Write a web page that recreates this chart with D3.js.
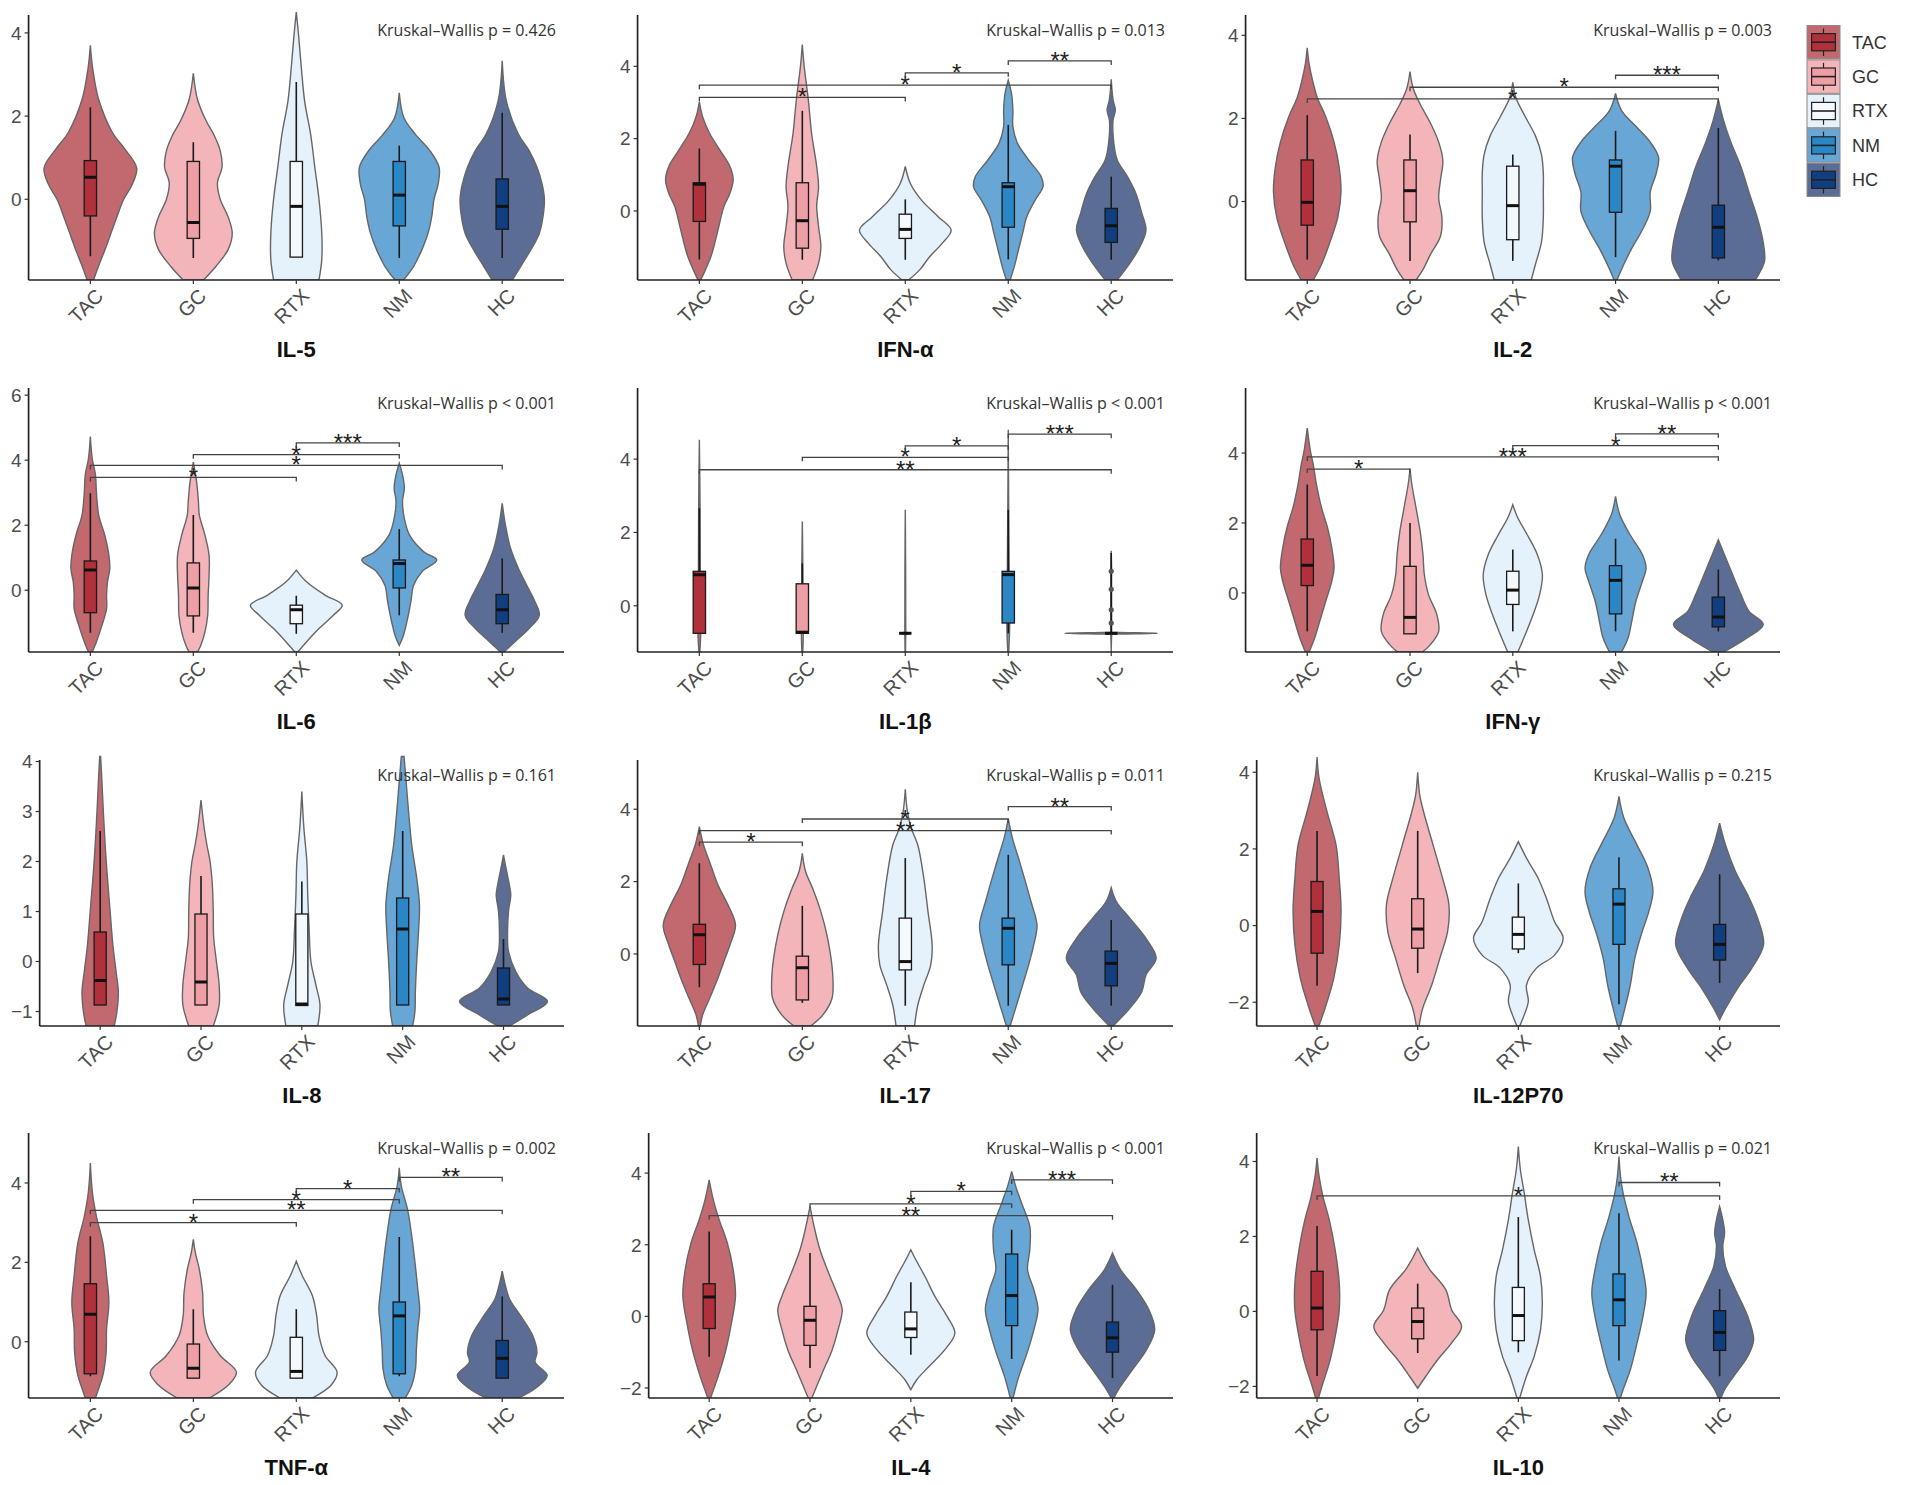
<!DOCTYPE html>
<html><head><meta charset="utf-8">
<script src="https://cdn.jsdelivr.net/npm/d3@7"></script>
<style>body{margin:0;background:#fff}svg{display:block}</style>
</head><body>
<svg id="c" width="1908" height="1485"></svg>
<script>
// ---------------- DATA ----------------
const groups = ["TAC","GC","RTX","NM","HC"];
const cytokines = ["IL-5","IFN-α","IL-2","IL-6","IL-1β","IFN-γ","IL-8","IL-17","IL-12P70","TNF-α","IL-4","IL-10"];
const kruskalP = ["p = 0.426","p = 0.013","p = 0.003","p < 0.001","p < 0.001","p < 0.001","p = 0.161","p = 0.011","p = 0.215","p = 0.002","p < 0.001","p = 0.021"];
const yDomains = [[-1.94,4.43],[-1.91,5.42],[-1.89,4.49],[-1.9,6.22],[-1.26,5.94],[-1.69,5.86],[-1.29,4.03],[-1.99,5.36],[-2.62,4.32],[-1.42,5.26],[-2.28,5.12],[-2.31,4.76]];
const yTicks = [[0,2,4],[0,2,4],[0,2,4],[0,2,4,6],[0,2,4],[0,2,4],[-1,0,1,2,3,4],[0,2,4],[-2,0,2,4],[0,2,4],[-2,0,2,4],[-2,0,2,4]];

// box stats per cytokine, per group: [lower whisker, q1, median, q3, upper whisker]
const boxStats = [
 [[-1.37,-0.40,0.53,0.93,2.21],[-1.41,-0.94,-0.56,0.91,1.37],[-1.39,-1.39,-0.17,0.91,2.82],[-1.41,-0.64,0.10,0.91,1.29],[-1.41,-0.72,-0.17,0.49,2.08]],
 [[-1.34,-0.29,0.74,0.78,1.73],[-1.35,-1.03,-0.27,0.78,2.77],[-1.35,-0.76,-0.51,-0.09,0.32],[-1.34,-0.45,0.67,0.78,2.38],[-1.35,-0.87,-0.41,0.07,0.95]],
 [[-1.40,-0.57,-0.02,1.00,2.08],[-1.43,-0.49,0.26,1.00,1.61],[-1.43,-0.92,-0.10,0.85,1.13],[-1.34,-0.26,0.85,1.00,1.70],[-1.42,-1.36,-0.62,-0.09,1.77]],
 [[-1.31,-0.69,0.62,0.90,2.98],[-1.31,-0.79,0.07,0.84,2.31],[-1.34,-1.03,-0.60,-0.46,-0.17],[-0.77,0.07,0.82,0.93,1.88],[-1.31,-1.03,-0.60,-0.13,0.98]],
 [[-0.75,-0.75,0.85,0.94,2.66],[-0.75,-0.75,-0.72,0.60,1.16],[-0.75,-0.75,-0.75,-0.75,-0.75],[-0.75,-0.47,0.85,0.94,2.62],[-0.75,-0.75,-0.75,-0.75,1.44]],
 [[-1.10,0.21,0.79,1.54,3.10],[-1.17,-1.17,-0.70,0.76,2.00],[-1.10,-0.33,0.08,0.62,1.24],[-1.10,-0.60,0.36,0.78,1.55],[-1.10,-0.97,-0.69,-0.12,0.67]],
 [[-0.87,-0.87,-0.38,0.59,2.61],[-0.87,-0.87,-0.41,0.95,1.71],[-0.88,-0.88,-0.85,0.95,1.60],[-0.87,-0.87,0.65,1.27,2.61],[-0.87,-0.87,-0.75,-0.13,0.45]],
 [[-0.92,-0.29,0.53,0.82,2.51],[-1.35,-1.27,-0.38,-0.06,1.33],[-1.43,-0.44,-0.21,0.99,2.65],[-1.43,-0.30,0.71,0.99,2.74],[-1.43,-0.88,-0.26,0.08,0.94]],
 [[-1.57,-0.72,0.37,1.15,2.47],[-1.24,-0.59,-0.09,0.70,2.47],[-0.72,-0.61,-0.23,0.22,1.10],[-2.05,-0.49,0.56,0.96,1.78],[-1.50,-0.90,-0.49,0.03,1.34]],
 [[-0.87,-0.81,0.69,1.46,2.66],[-0.92,-0.92,-0.67,-0.06,0.82],[-0.92,-0.92,-0.75,0.11,0.82],[-0.87,-0.81,0.65,1.00,2.64],[-0.92,-0.92,-0.42,0.03,1.14]],
 [[-1.13,-0.34,0.54,0.91,2.37],[-1.44,-0.81,-0.11,0.28,1.77],[-1.07,-0.59,-0.35,0.12,0.95],[-1.19,-0.26,0.58,1.74,2.42],[-1.72,-1.00,-0.60,-0.16,0.88]],
 [[-1.72,-0.49,0.09,1.07,2.28],[-1.11,-0.73,-0.27,0.09,0.74],[-1.09,-0.78,-0.11,0.64,2.52],[-1.31,-0.38,0.31,1.00,2.62],[-1.73,-1.04,-0.56,0.02,0.60]]
];

// violin density profiles: [value, relative half-width (1 = full violin width)]
const violins = [
 [ // IL-5
  [[3.7,0],[3.15,0.05],[2.4,0.18],[1.6,0.48],[1.2,0.75],[0.75,1.0],[0.35,0.9],[0,0.72],[-0.4,0.58],[-0.8,0.45],[-1.2,0.32],[-1.6,0.18],[-1.94,0.07]],
  [[3.03,0],[2.4,0.09],[1.9,0.27],[1.56,0.44],[1.17,0.58],[0.77,0.62],[0.4,0.52],[0,0.58],[-0.42,0.75],[-0.82,0.84],[-1.21,0.75],[-1.61,0.49],[-1.94,0.22]],
  [[4.5,0],[3.94,0.05],[3.15,0.11],[2.36,0.18],[1.56,0.31],[0.77,0.4],[0,0.49],[-0.82,0.55],[-1.45,0.55],[-1.94,0.49]],
  [[2.56,0],[1.96,0.1],[1.56,0.35],[1.17,0.66],[0.77,0.86],[0.37,0.84],[0,0.75],[-0.42,0.7],[-0.82,0.62],[-1.21,0.49],[-1.61,0.31],[-1.94,0.09]],
  [[3.33,0],[2.36,0.09],[1.56,0.35],[1.17,0.58],[0.77,0.75],[0.37,0.86],[0,0.91],[-0.42,0.88],[-0.82,0.8],[-1.21,0.62],[-1.61,0.4],[-1.94,0.22]]
 ],
 [ // IFN-α
  [[3.02,0],[2.61,0.07],[2.15,0.22],[1.69,0.44],[1.23,0.66],[0.86,0.73],[0.49,0.66],[0.12,0.53],[-0.43,0.42],[-0.8,0.35],[-1.26,0.25],[-1.63,0.13],[-1.91,0.03]],
  [[4.6,0],[4.0,0.04],[3.07,0.13],[2.15,0.2],[1.23,0.31],[0.67,0.35],[0.12,0.31],[-0.43,0.35],[-0.99,0.4],[-1.45,0.35],[-1.91,0.22]],
  [[1.23,0],[0.76,0.11],[0.3,0.35],[-0.16,0.71],[-0.53,0.99],[-0.89,0.8],[-1.26,0.53],[-1.63,0.31],[-1.91,0.07]],
  [[3.62,0],[3.25,0.07],[2.79,0.1],[2.33,0.1],[1.87,0.2],[1.41,0.44],[0.95,0.71],[0.67,0.75],[0.3,0.58],[-0.16,0.4],[-0.62,0.31],[-1.08,0.22],[-1.54,0.13],[-1.91,0.04]],
  [[3.64,0],[3.07,0.04],[2.79,0.09],[2.52,0.04],[1.96,0.05],[1.41,0.13],[0.95,0.35],[0.49,0.53],[-0.06,0.66],[-0.53,0.75],[-0.99,0.62],[-1.45,0.4],[-1.91,0.13]]
 ],
 [ // IL-2
  [[3.7,0],[3.32,0.04],[2.94,0.11],[2.49,0.22],[2.04,0.4],[1.43,0.58],[0.83,0.69],[0.23,0.73],[-0.38,0.66],[-0.98,0.49],[-1.51,0.31],[-1.89,0.13]],
  [[3.13,0],[2.72,0.07],[2.34,0.22],[1.89,0.44],[1.43,0.62],[0.98,0.71],[0.53,0.66],[0.08,0.62],[-0.38,0.69],[-0.83,0.66],[-1.28,0.44],[-1.66,0.27],[-1.89,0.13]],
  [[2.87,0],[2.49,0.07],[2.04,0.27],[1.58,0.49],[1.13,0.62],[0.68,0.66],[0.23,0.66],[-0.38,0.66],[-0.98,0.62],[-1.51,0.49],[-1.89,0.4]],
  [[2.6,0],[2.19,0.13],[1.81,0.44],[1.43,0.75],[1.06,0.93],[0.68,0.88],[0.23,0.75],[-0.23,0.75],[-0.68,0.58],[-1.13,0.35],[-1.51,0.18],[-1.89,0.03]],
  [[2.45,0],[1.96,0.11],[1.43,0.27],[0.83,0.49],[0.23,0.66],[-0.38,0.84],[-0.98,0.97],[-1.43,1.0],[-1.74,0.88],[-1.89,0.8]]
 ],
 [ // IL-6
  [[4.73,0],[4.06,0.04],[3.55,0.11],[3.03,0.13],[2.31,0.18],[1.7,0.31],[1.08,0.4],[0.67,0.42],[0.26,0.37],[-0.15,0.35],[-0.57,0.35],[-1.08,0.25],[-1.59,0.13],[-1.9,0.04]],
  [[3.94,0],[3.34,0.07],[2.73,0.11],[2.31,0.13],[1.7,0.25],[1.08,0.34],[0.46,0.34],[-0.15,0.32],[-0.77,0.31],[-1.29,0.25],[-1.7,0.16],[-1.9,0.09]],
  [[0.62,0],[0.26,0.22],[-0.15,0.62],[-0.46,0.99],[-0.77,0.8],[-1.18,0.49],[-1.59,0.22],[-1.9,0.03]],
  [[3.91,0],[3.55,0.07],[3.14,0.11],[2.73,0.07],[2.21,0.11],[1.7,0.22],[1.18,0.53],[0.93,0.81],[0.57,0.49],[0.15,0.31],[-0.36,0.25],[-0.87,0.18],[-1.39,0.09],[-1.7,0]],
  [[2.67,0],[2.0,0.07],[1.29,0.18],[0.67,0.35],[0.15,0.53],[-0.36,0.71],[-0.77,0.8],[-1.18,0.58],[-1.59,0.27],[-1.9,0.04]]
 ],
 [ // IL-1β
  [[4.53,0],[3.5,0.01],[2.7,0.015],[1.0,0.02],[-0.7,0.03],[-1.26,0.01]],
  [[2.3,0],[1.2,0.01],[0,0.015],[-0.75,0.02],[-1.26,0.01]],
  [[2.62,0],[1.0,0.008],[-0.7,0.01],[-0.75,0.06],[-0.8,0.01],[-1.26,0.005]],
  [[4.8,0],[2.62,0.01],[0.9,0.02],[-0.5,0.03],[-1.26,0.01]],
  [[1.5,0],[1.0,0.008],[-0.72,0.01],[-0.75,1.0],[-0.78,0.01],[-1.26,0]]
 ],
 [ // IFN-γ
  [[4.71,0],[4.05,0.07],[3.67,0.13],[3.1,0.2],[2.43,0.31],[1.86,0.44],[1.29,0.53],[0.71,0.58],[0.33,0.53],[-0.24,0.4],[-0.81,0.27],[-1.29,0.16],[-1.69,0.04]],
  [[3.55,0],[3.1,0.04],[2.43,0.13],[1.76,0.22],[1.1,0.28],[0.52,0.31],[-0.05,0.4],[-0.62,0.58],[-1.1,0.62],[-1.48,0.44],[-1.69,0.27]],
  [[2.52,0],[2.14,0.11],[1.67,0.31],[1.1,0.53],[0.52,0.64],[-0.05,0.58],[-0.62,0.44],[-1.19,0.27],[-1.69,0.11]],
  [[2.76,0],[2.24,0.09],[1.67,0.31],[1.1,0.58],[0.71,0.66],[0.33,0.58],[-0.24,0.44],[-0.81,0.35],[-1.29,0.27],[-1.69,0.13]],
  [[1.52,0],[1.1,0.13],[0.52,0.31],[-0.05,0.49],[-0.52,0.66],[-0.9,0.97],[-1.29,0.62],[-1.57,0.27],[-1.69,0.11]]
 ],
 [ // IL-8
  [[4.1,0.01],[3.67,0.035],[3.0,0.07],[2.33,0.11],[1.67,0.16],[1.0,0.22],[0.33,0.28],[-0.2,0.35],[-0.6,0.4],[-1.0,0.37],[-1.29,0.31]],
  [[3.23,0],[2.67,0.07],[2.33,0.13],[2.0,0.2],[1.53,0.25],[1.0,0.27],[0.47,0.28],[0,0.34],[-0.47,0.4],[-0.87,0.4],[-1.29,0.27]],
  [[3.4,0],[2.67,0.045],[2.0,0.11],[1.33,0.13],[0.67,0.16],[0,0.2],[-0.47,0.31],[-0.87,0.4],[-1.29,0.35]],
  [[4.1,0.03],[3.67,0.07],[3.0,0.13],[2.33,0.2],[1.67,0.31],[1.13,0.37],[0.6,0.35],[0,0.31],[-0.6,0.28],[-1.0,0.27],[-1.29,0.22]],
  [[2.13,0],[1.8,0.07],[1.53,0.13],[1.33,0.16],[1.0,0.11],[0.6,0.09],[0.2,0.11],[-0.2,0.27],[-0.53,0.53],[-0.8,0.97],[-1.07,0.53],[-1.29,0.13]]
 ],
 [ // IL-17
  [[3.52,0],[3.01,0.09],[2.55,0.22],[1.91,0.4],[1.35,0.62],[0.8,0.78],[0.25,0.66],[-0.21,0.53],[-0.67,0.4],[-1.23,0.22],[-1.69,0.07],[-1.99,0.02]],
  [[2.78,0],[2.28,0.07],[1.82,0.22],[1.17,0.4],[0.53,0.53],[-0.12,0.62],[-0.67,0.66],[-1.23,0.64],[-1.69,0.44],[-1.99,0.18]],
  [[4.55,0],[3.94,0.045],[3.47,0.13],[3.01,0.27],[2.09,0.4],[1.17,0.49],[0.25,0.58],[-0.3,0.55],[-0.86,0.4],[-1.41,0.27],[-1.99,0.2]],
  [[3.73,0],[3.2,0.09],[2.65,0.22],[2.09,0.35],[1.45,0.49],[0.8,0.62],[0.25,0.55],[-0.3,0.44],[-0.86,0.31],[-1.41,0.18],[-1.99,0.04]],
  [[1.83,0],[1.45,0.11],[0.99,0.4],[0.43,0.75],[-0.12,0.97],[-0.58,0.75],[-1.04,0.66],[-1.5,0.4],[-1.99,0.04]]
 ],
 [ // IL-12P70
  [[4.4,0],[3.84,0.045],[2.97,0.22],[2.1,0.42],[1.23,0.49],[0.37,0.53],[-0.5,0.49],[-1.37,0.37],[-2.07,0.2],[-2.62,0.04]],
  [[4.0,0],[3.41,0.045],[2.97,0.13],[2.1,0.34],[1.23,0.55],[0.54,0.69],[-0.16,0.66],[-0.85,0.49],[-1.55,0.31],[-2.16,0.11],[-2.62,0.03]],
  [[2.19,0],[1.76,0.18],[1.23,0.44],[0.71,0.62],[0.1,0.8],[-0.33,0.99],[-0.77,0.8],[-1.11,0.4],[-1.55,0.18],[-1.98,0.22],[-2.33,0.13],[-2.62,0.03]],
  [[3.37,0],[2.8,0.11],[2.1,0.4],[1.5,0.64],[0.89,0.75],[0.37,0.66],[-0.24,0.49],[-0.85,0.35],[-1.55,0.25],[-2.16,0.13],[-2.62,0.03]],
  [[2.67,0],[2.1,0.13],[1.41,0.35],[0.8,0.62],[0.19,0.84],[-0.5,0.97],[-1.11,0.71],[-1.63,0.4],[-2.16,0.13],[-2.46,0]]
 ],
 [ // TNF-α
  [[4.5,0],[3.75,0.045],[3.16,0.13],[2.49,0.27],[1.66,0.35],[0.99,0.4],[0.32,0.35],[-0.27,0.34],[-0.85,0.27],[-1.18,0.18],[-1.42,0.11]],
  [[2.58,0],[2.24,0.045],[1.82,0.13],[1.24,0.2],[0.65,0.22],[0.15,0.31],[-0.35,0.58],[-0.77,0.93],[-1.1,0.75],[-1.42,0.35]],
  [[2.03,0],[1.66,0.13],[1.15,0.35],[0.65,0.44],[0.15,0.49],[-0.35,0.62],[-0.77,0.88],[-1.1,0.75],[-1.42,0.35]],
  [[4.38,0],[3.92,0.045],[3.33,0.18],[2.66,0.27],[1.99,0.34],[1.32,0.4],[0.82,0.44],[0.32,0.4],[-0.18,0.37],[-0.69,0.35],[-1.1,0.27],[-1.42,0.13]],
  [[1.78,0],[1.41,0.07],[1.07,0.16],[0.65,0.4],[0.15,0.66],[-0.27,0.75],[-0.52,0.71],[-0.85,0.97],[-1.18,0.71],[-1.42,0.35]]
 ],
 [ // IL-4
  [[3.81,0],[3.26,0.09],[2.7,0.22],[2.05,0.4],[1.3,0.53],[0.56,0.58],[-0.19,0.49],[-0.93,0.37],[-1.67,0.2],[-2.28,0.03]],
  [[3.07,0],[2.51,0.09],[1.86,0.22],[1.12,0.44],[0.56,0.62],[0.19,0.71],[-0.37,0.62],[-0.93,0.49],[-1.58,0.27],[-2.28,0.04]],
  [[1.86,0],[1.58,0.11],[1.12,0.31],[0.56,0.53],[0,0.8],[-0.47,0.97],[-0.93,0.75],[-1.4,0.4],[-1.77,0.13],[-2.05,0]],
  [[4.05,0],[3.63,0.09],[3.16,0.22],[2.51,0.4],[1.86,0.4],[1.3,0.35],[0.74,0.49],[0.19,0.58],[-0.37,0.49],[-1.02,0.34],[-1.67,0.16],[-2.28,0.03]],
  [[1.77,0],[1.3,0.18],[0.74,0.53],[0.19,0.8],[-0.37,0.93],[-0.93,0.75],[-1.49,0.44],[-2.05,0.13],[-2.28,0.03]]
 ],
 [ // IL-10
  [[4.09,0],[3.6,0.045],[3.07,0.13],[2.44,0.27],[1.64,0.4],[0.76,0.49],[0.04,0.49],[-0.67,0.4],[-1.38,0.27],[-1.91,0.13],[-2.31,0.03]],
  [[1.69,0],[1.38,0.13],[1.11,0.27],[0.58,0.62],[0.04,0.75],[-0.4,0.97],[-0.84,0.75],[-1.29,0.44],[-1.73,0.18],[-2.05,0]],
  [[4.4,0],[3.78,0.045],[3.16,0.13],[2.44,0.22],[1.64,0.35],[0.93,0.49],[0.22,0.53],[-0.49,0.49],[-1.2,0.35],[-1.73,0.18],[-2.31,0.03]],
  [[4.13,0],[3.6,0.035],[3.16,0.09],[2.53,0.22],[1.82,0.4],[1.11,0.53],[0.49,0.6],[-0.13,0.53],[-0.84,0.4],[-1.56,0.25],[-2.09,0.09],[-2.31,0.03]],
  [[2.8,0],[2.44,0.07],[2.09,0.11],[1.73,0.07],[1.2,0.13],[0.58,0.35],[-0.13,0.62],[-0.76,0.75],[-1.2,0.62],[-1.73,0.31],[-2.09,0.11],[-2.31,0.03]]
 ]
];

// significance brackets: [group A, group B, value, label]
const brackets = [
 [],
 [["TAC","RTX",3.14,"*"],["TAC","HC",3.48,"*"],["RTX","NM",3.82,"*"],["NM","HC",4.15,"**"]],
 [["TAC","HC",2.47,"*"],["GC","HC",2.75,"*"],["NM","HC",3.04,"***"]],
 [["TAC","RTX",3.47,"*"],["TAC","HC",3.84,"*"],["GC","NM",4.17,"*"],["RTX","NM",4.53,"***"]],
 [["TAC","HC",3.71,"**"],["GC","NM",4.05,"*"],["RTX","NM",4.36,"*"],["NM","HC",4.68,"***"]],
 [["TAC","GC",3.54,"*"],["TAC","HC",3.89,"***"],["RTX","HC",4.21,"*"],["NM","HC",4.55,"**"]],
 [],
 [["TAC","GC",3.09,"*"],["TAC","HC",3.41,"**"],["GC","NM",3.73,"*"],["NM","HC",4.07,"**"]],
 [],
 [["TAC","RTX",3.0,"*"],["TAC","HC",3.31,"**"],["GC","NM",3.58,"*"],["RTX","NM",3.86,"*"],["NM","HC",4.14,"**"]],
 [["TAC","HC",2.81,"**"],["GC","NM",3.14,"*"],["RTX","NM",3.49,"*"],["NM","HC",3.81,"***"]],
 [["TAC","HC",3.08,"*"],["NM","HC",3.44,"**"]]
];

// isolated points (IL-1β, HC)
const extraPoints = [["IL-1β","HC",[0.94,0.45,-0.11,-0.47]]];

// ---------------- STYLE / LAYOUT ----------------
const violinFill = {TAC:"#c2696f",GC:"#f4b5ba",RTX:"#e5f1fb",NM:"#68a6d6",HC:"#5b6d95"};
const boxFill    = {TAC:"#b0313b",GC:"#ee9ea5",RTX:"#f4f9fe",NM:"#2b86c5",HC:"#103e7e"};
const colLeft=[10,619,1227], colRight=[564,1173,1780];
const rowTop=[15,388,760,1133], rowBottom=[280,652,1026,1398];
const SANS='"Liberation Sans", Arial, Helvetica, sans-serif';

const svg=d3.select("#c");
const fmt=v=> v<0 ? "\u2212"+Math.abs(v) : String(v);
const meas=svg.append("text").style("font-family",SANS).style("font-size","19px").attr("visibility","hidden");
const tw=s=>{meas.text(s);return meas.node().getComputedTextLength();};

cytokines.forEach((name,k)=>{
  const r=Math.floor(k/3), c=k%3;
  const ticks=yTicks[k];
  const maxW=d3.max(ticks,t=>tw(fmt(t)));
  const x0=colLeft[c]+maxW+8, x1=colRight[c];
  const top=rowTop[r], bot=rowBottom[r];
  const y=d3.scaleLinear().domain(yDomains[k]).range([bot,top]);
  const x=d3.scalePoint().domain(groups).range([x0,x1]).padding(0.6);
  const step=x.step(), half=0.45*step, bw=0.06*step;
  const g=svg.append("g");
  const cid="clip"+k;
  g.append("clipPath").attr("id",cid).append("rect").attr("x",x0).attr("y",top-40).attr("width",x1-x0).attr("height",bot-top+40);
  const plot=g.append("g").attr("clip-path",`url(#${cid})`);
  // thin, spiky profiles (IL-1β) use a monotone curve; others a smooth Catmull-Rom
  const curve = name==="IL-1β" ? d3.curveMonotoneY : d3.curveCatmullRom.alpha(0.5);

  groups.forEach((grp,i)=>{
    const cx=x(grp);
    const area=d3.area().curve(curve)
      .y(d=>y(d[0])).x0(d=>cx-d[1]*half).x1(d=>cx+d[1]*half);
    const pts=violins[k][i].slice().sort((a,b)=>b[0]-a[0]);
    plot.append("path").attr("d",area(pts))
      .attr("fill",violinFill[grp]).attr("stroke","#666").attr("stroke-width",1.4);
    const [lo,q1,md,q3,hi]=boxStats[k][i];
    plot.append("line").attr("x1",cx).attr("x2",cx).attr("y1",y(lo)).attr("y2",y(hi))
      .attr("stroke","#1a1a1a").attr("stroke-width",1.6);
    plot.append("rect").attr("x",cx-bw).attr("width",2*bw).attr("y",y(q3)).attr("height",Math.max(0,y(q1)-y(q3)))
      .attr("fill",boxFill[grp]).attr("stroke","#1a1a1a").attr("stroke-width",1.3);
    plot.append("line").attr("x1",cx-bw).attr("x2",cx+bw).attr("y1",y(md)).attr("y2",y(md))
      .attr("stroke","#111").attr("stroke-width",3);
  });
  extraPoints.filter(p=>p[0]===name).forEach(p=>{
    p[2].forEach(v=>plot.append("circle").attr("cx",x(p[1])).attr("cy",y(v)).attr("r",2.6).attr("fill","#555"));
  });

  // brackets
  brackets[k].forEach(([a,b,v,lab])=>{
    const xa=x(a), xb=x(b), yy=y(v);
    g.append("path").attr("d",`M${xa},${yy+4}V${yy}H${xb}V${yy+4}`)
      .attr("fill","none").attr("stroke","#444").attr("stroke-width",1.3);
    g.append("text").attr("x",(xa+xb)/2).attr("y",yy+8).attr("text-anchor","middle")
      .style("font-family",SANS).style("font-size","24px").attr("fill","#222").text(lab);
  });

  // axes
  g.append("line").attr("x1",x0).attr("x2",x0).attr("y1",top).attr("y2",bot).attr("stroke","#222").attr("stroke-width",1.7);
  g.append("line").attr("x1",x0).attr("x2",x1).attr("y1",bot).attr("y2",bot).attr("stroke","#222").attr("stroke-width",1.7);
  ticks.forEach(t=>{
    g.append("line").attr("x1",x0-4).attr("x2",x0).attr("y1",y(t)).attr("y2",y(t)).attr("stroke","#333").attr("stroke-width",1.2);
    g.append("text").attr("x",x0-7).attr("y",y(t)).attr("dy","0.36em").attr("text-anchor","end")
      .style("font-family",SANS).style("font-size","19px").attr("fill","#4d4d4d").text(fmt(t));
  });
  groups.forEach(grp=>{
    const cx=x(grp);
    g.append("line").attr("x1",cx).attr("x2",cx).attr("y1",bot).attr("y2",bot+4).attr("stroke","#333").attr("stroke-width",1.2);
    g.append("text").attr("transform",`translate(${cx+4},${bot+7}) rotate(-45)`).attr("dy","0.72em").attr("text-anchor","end")
      .style("font-family",SANS).style("font-size","20px").attr("fill","#4d4d4d").text(grp);
  });
  // title
  g.append("text").attr("x",(x0+x1)/2).attr("y",bot+77).attr("text-anchor","middle")
    .style("font-family",SANS).style("font-size","22px").style("font-weight","bold").attr("fill","#111").text(name);
  // Kruskal label
  g.append("text").attr("x",x1-8).attr("y",top+21).attr("text-anchor","end")
    .style("font-family",'"Open Sans", sans-serif').style("font-size","16px").attr("fill","#333")
    .text("Kruskal–Wallis "+kruskalP[k]);
});

// legend
const lg=svg.append("g").attr("transform","translate(1807,25)");
const kw=33, kh=34.4;
groups.forEach((grp,i)=>{
  const gy=i*kh;
  lg.append("rect").attr("x",0).attr("y",gy+0.5).attr("width",kw).attr("height",kh-1)
    .attr("fill",violinFill[grp]).attr("stroke","#8a8a8a").attr("stroke-width",1);
  const cx=kw/2;
  lg.append("line").attr("x1",cx).attr("x2",cx).attr("y1",gy+kh*0.1).attr("y2",gy+kh*0.9).attr("stroke","#222").attr("stroke-width",1.2);
  lg.append("rect").attr("x",kw*0.14).attr("y",gy+kh*0.25).attr("width",kw*0.72).attr("height",kh*0.5)
    .attr("fill",boxFill[grp]).attr("stroke","#222").attr("stroke-width",1.2);
  lg.append("line").attr("x1",kw*0.14).attr("x2",kw*0.86).attr("y1",gy+kh/2).attr("y2",gy+kh/2).attr("stroke","#222").attr("stroke-width",1.6);
  lg.append("text").attr("x",45).attr("y",gy+kh/2).attr("dy","0.36em")
    .style("font-family",SANS).style("font-size","18px").attr("fill","#333").text(grp);
});
</script>
</body></html>
